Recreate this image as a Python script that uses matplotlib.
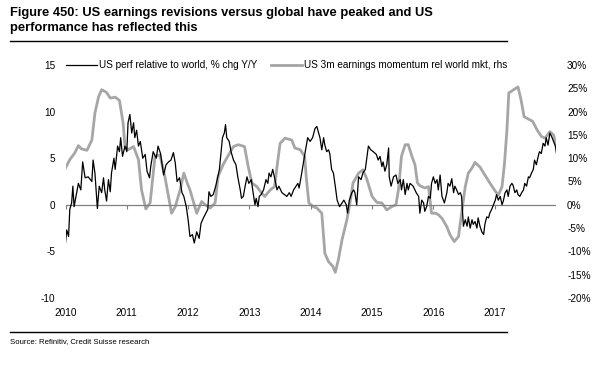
import matplotlib
matplotlib.use("Agg")
import matplotlib.pyplot as plt
from matplotlib.ticker import FuncFormatter

plt.rcParams['font.family'] = ['Liberation Sans', 'DejaVu Sans']
plt.rcParams['axes.unicode_minus'] = False

# US performance relative to world, % chg Y/Y (left axis), decimal years
perf_t = [2010.00, 2010.02, 2010.05, 2010.07, 2010.10, 2010.12, 2010.14, 2010.17, 2010.21, 2010.25,
          2010.28, 2010.32, 2010.37, 2010.43, 2010.45, 2010.48, 2010.52, 2010.55, 2010.59, 2010.62,
          2010.64, 2010.67, 2010.70, 2010.73, 2010.75, 2010.79, 2010.81, 2010.85, 2010.88, 2010.90,
          2010.93, 2010.97, 2011.00, 2011.02, 2011.05, 2011.08, 2011.11, 2011.13, 2011.16, 2011.19,
          2011.22, 2011.26, 2011.30, 2011.33, 2011.37, 2011.39, 2011.43, 2011.48, 2011.51, 2011.55,
          2011.60, 2011.64, 2011.68, 2011.72, 2011.76, 2011.79, 2011.82, 2011.86, 2011.90, 2011.93,
          2011.97, 2012.00, 2012.03, 2012.07, 2012.10, 2012.14, 2012.18, 2012.21, 2012.25, 2012.29,
          2012.32, 2012.34, 2012.37, 2012.41, 2012.45, 2012.48, 2012.51, 2012.54, 2012.56, 2012.59,
          2012.61, 2012.63, 2012.67, 2012.70, 2012.74, 2012.78, 2012.81, 2012.85, 2012.87, 2012.90,
          2012.93, 2012.96, 2012.99, 2013.03, 2013.06, 2013.09, 2013.11, 2013.14, 2013.16, 2013.19,
          2013.23, 2013.27, 2013.30, 2013.32, 2013.35, 2013.38, 2013.41, 2013.45, 2013.48, 2013.53,
          2013.57, 2013.61, 2013.65, 2013.68, 2013.72, 2013.76, 2013.79, 2013.81, 2013.84, 2013.88,
          2013.91, 2013.95, 2013.99, 2014.03, 2014.07, 2014.10, 2014.12, 2014.15, 2014.18, 2014.21,
          2014.23, 2014.26, 2014.29, 2014.31, 2014.34, 2014.37, 2014.40, 2014.43, 2014.47, 2014.51,
          2014.54, 2014.58, 2014.60, 2014.63, 2014.67, 2014.70, 2014.72, 2014.75, 2014.78, 2014.82,
          2014.85, 2014.89, 2014.91, 2014.94, 2014.98, 2015.02, 2015.07, 2015.10, 2015.13, 2015.16,
          2015.18, 2015.21, 2015.24, 2015.27, 2015.28, 2015.31, 2015.35, 2015.39, 2015.42, 2015.46,
          2015.48, 2015.51, 2015.54, 2015.57, 2015.59, 2015.62, 2015.67, 2015.72, 2015.76, 2015.78,
          2015.81, 2015.84, 2015.86, 2015.89, 2015.92, 2015.95, 2015.97, 2016.00, 2016.03, 2016.06,
          2016.08, 2016.11, 2016.14, 2016.18, 2016.22, 2016.24, 2016.27, 2016.30, 2016.33, 2016.35,
          2016.38, 2016.41, 2016.44, 2016.46, 2016.49, 2016.52, 2016.55, 2016.57, 2016.60, 2016.63,
          2016.65, 2016.68, 2016.71, 2016.73, 2016.76, 2016.79, 2016.82, 2016.84, 2016.87, 2016.90,
          2016.92, 2016.95, 2016.98, 2017.01, 2017.03, 2017.06, 2017.09, 2017.12, 2017.14, 2017.17,
          2017.20, 2017.22, 2017.25, 2017.28, 2017.30, 2017.33, 2017.36, 2017.38, 2017.41, 2017.44,
          2017.47, 2017.49, 2017.52, 2017.55, 2017.57, 2017.60, 2017.63, 2017.65, 2017.68, 2017.71,
          2017.73, 2017.76, 2017.79, 2017.82, 2017.84, 2017.87, 2017.90, 2017.93, 2017.96, 2017.99,
          2018.01]
perf_v = [-4.1, -2.7, -3.4, -0.5, 0.2, 2.0, -0.2, 0.9, 2.3, 1.6,
          4.6, 2.9, 3.0, 2.5, 4.8, 3.4, -0.4, 2.0, 1.3, 2.9,
          1.6, 0.4, 2.7, 1.4, 3.4, 5.0, 3.8, 6.3, 5.7, 7.2,
          5.2, 6.3, 5.7, 8.8, 9.7, 7.7, 8.8, 7.2, 8.0, 6.3,
          6.8, 5.0, 5.4, 3.6, 2.9, 4.1, 5.7, 5.0, 6.3, 5.5,
          3.2, 4.3, 4.6, 4.8, 5.6, 4.5, 2.5, 2.9, 1.3, 0.9,
          -0.2, -1.6, -3.4, -3.2, -4.1, -2.9, -3.6, -2.0, -1.4, -0.9,
          -0.5, 1.4, 0.9, 1.1, 2.0, 2.9, 3.8, 5.9, 7.2, 7.7,
          8.6, 7.2, 6.8, 5.7, 4.8, 4.3, 3.0, 1.6, 0.7, 0.9,
          2.0, 3.0, 2.3, 2.7, 1.3, 0.0, 0.7, -0.2, 0.9, 1.1,
          1.6, 2.7, 2.3, 3.4, 3.0, 3.8, 2.9, 1.6, 2.0, 1.3,
          1.1, 0.9, 1.3, 0.9, 1.6, 2.0, 2.3, 1.8, 2.9, 4.5,
          5.7, 7.2, 6.8, 7.2, 8.2, 8.4, 7.9, 7.2, 5.9, 7.2,
          6.4, 5.7, 5.9, 5.5, 3.8, 3.4, 2.0, 0.5, -0.2, 0.2,
          0.5, 0.0, -0.9, 0.5, 1.3, 1.6, 1.3, 0.0, 3.0, 2.7,
          3.4, 3.8, 4.8, 6.3, 5.9, 5.7, 5.4, 4.8, 5.2, 4.1,
          4.6, 3.6, 4.3, 6.1, 3.0, 2.0, 3.0, 3.2, 2.3, 2.7,
          1.6, 2.7, 1.1, 2.3, 1.6, 2.3, 2.0, 1.3, 0.9, -0.9,
          0.5, 0.2, -0.7, -0.2, 0.9, 0.7, 2.3, 3.0, 2.3, 2.7,
          1.6, 3.2, 0.9, 0.2, 1.3, 2.3, 2.0, 2.8, 1.3, 2.0,
          1.6, 1.1, 1.3, 0.9, -2.3, -1.6, -2.3, -1.3, -2.5, -1.6,
          -2.1, -1.8, -2.5, -1.4, -2.3, -2.9, -3.2, -2.1, -1.3, -1.4,
          -0.9, -0.5, 0.0, 0.5, 1.1, 0.5, 0.9, 0.0, 0.4, 1.3,
          1.6, 0.9, 2.0, 2.3, 2.1, 1.3, 1.6, 1.1, 0.9, 1.3,
          1.6, 2.3, 2.0, 3.0, 2.9, 3.4, 3.8, 4.8, 4.3, 5.2,
          5.7, 5.5, 6.6, 6.3, 7.2, 6.4, 7.7, 7.3, 6.8, 6.3,
          5.4]

# US 3m earnings momentum rel world mkt, % (right axis), decimal years
mom_t = [2010.00, 2010.07, 2010.15, 2010.21, 2010.26, 2010.35, 2010.43, 2010.48, 2010.54, 2010.59,
         2010.67, 2010.73, 2010.81, 2010.88, 2010.94, 2010.97, 2011.02, 2011.11, 2011.19, 2011.24,
         2011.31, 2011.38, 2011.46, 2011.54, 2011.62, 2011.73, 2011.79, 2011.87, 2011.93, 2011.99,
         2012.03, 2012.14, 2012.22, 2012.28, 2012.36, 2012.44, 2012.49, 2012.57, 2012.66, 2012.74,
         2012.82, 2012.92, 2012.98, 2013.04, 2013.12, 2013.20, 2013.25, 2013.34, 2013.41, 2013.45,
         2013.50, 2013.58, 2013.69, 2013.74, 2013.83, 2013.90, 2013.93, 2013.97, 2014.04, 2014.10,
         2014.18, 2014.23, 2014.29, 2014.36, 2014.40, 2014.45, 2014.51, 2014.59, 2014.64, 2014.69,
         2014.78, 2014.85, 2014.91, 2015.00, 2015.08, 2015.16, 2015.24, 2015.32, 2015.39, 2015.43,
         2015.48, 2015.54, 2015.59, 2015.65, 2015.70, 2015.74, 2015.78, 2015.86, 2015.92, 2015.97,
         2016.03, 2016.08, 2016.14, 2016.22, 2016.27, 2016.34, 2016.41, 2016.46, 2016.52, 2016.57,
         2016.63, 2016.68, 2016.76, 2016.84, 2016.92, 2017.01, 2017.06, 2017.12, 2017.16, 2017.20,
         2017.23, 2017.31, 2017.38, 2017.43, 2017.48, 2017.55, 2017.62, 2017.69, 2017.76, 2017.82,
         2017.90, 2017.96, 2018.00]
mom_v = [7.9, 9.7, 11.1, 12.7, 12.0, 11.7, 13.9, 19.7, 23.2, 24.7,
         24.1, 22.9, 23.1, 22.4, 17.5, 12.5, 11.8, 12.5, 9.7, 3.2,
         -0.9, 0.4, 10.4, 10.7, 6.1, -1.8, -0.4, 3.2, 6.8, 4.5,
         3.2, -1.8, 0.7, 0.0, -0.7, 0.4, 6.1, 8.6, 10.7, 12.5,
         12.9, 12.5, 8.2, 4.7, 3.9, 2.5, 1.8, 3.2, 3.9, 8.2,
         13.2, 14.3, 13.9, 12.2, 11.8, 10.4, 5.4, 0.4, -0.4, -0.7,
         -1.8, -10.4, -12.2, -13.2, -14.5, -11.8, -7.5, -3.2, 0.4, 4.7,
         6.8, 7.5, 5.7, 1.8, 0.5, 0.4, -1.1, -0.4, 0.0, 3.2,
         10.4, 12.9, 12.9, 10.4, 8.6, 4.7, 4.1, 3.6, 3.9, -1.8,
         -1.8, -2.1, -2.9, -4.7, -6.4, -7.9, -6.8, -1.8, 3.9, 6.8,
         7.9, 9.1, 8.1, 6.4, 4.7, 2.9, 2.1, 3.9, 8.9, 16.1,
         24.0, 24.7, 25.3, 22.5, 18.9, 18.4, 17.9, 16.1, 14.7, 14.3,
         15.7, 15.0, 12.9]

year_ticks = [2010, 2011, 2012, 2013, 2014, 2015, 2016, 2017]
left_ticks = [-10, -5, 0, 5, 10, 15]
right_ticks = [-20, -15, -10, -5, 0, 5, 10, 15, 20, 25, 30]

label_perf = "US perf relative to world, % chg Y/Y"
label_mom = "US 3m earnings momentum rel world mkt, rhs"
title = ("Figure 450: US earnings revisions versus global have peaked and US\n"
         "performance has reflected this")
source = "Source: Refinitiv, Credit Suisse research"

W, H = 612, 372
fig = plt.figure(figsize=(W / 100, H / 100), dpi=100)
ax = fig.add_axes([65.5 / W, 1 - 298 / H, (556 - 65.5) / W, (298 - 65) / H])
ax2 = ax.twinx()

ax.set_xlim(2010, 2018.0)
ax.set_ylim(-10, 15)
ax2.set_ylim(-20, 30)

gray = '#A6A6A6'
l2, = ax2.plot(mom_t, mom_v, color=gray, lw=2.0, solid_joinstyle='round', label=label_mom)
l1, = ax.plot(perf_t, perf_v, color='black', lw=0.9, label=label_perf)
ax.set_zorder(ax2.get_zorder() + 1)
ax.patch.set_visible(False)

# zero line with year tick marks
ax.axhline(0, color='#808080', lw=0.9, zorder=1)
ax.plot(year_ticks, [0] * len(year_ticks), ls='none', marker=3, ms=3,
        mew=0.8, color='#808080', zorder=1)

for a in (ax, ax2):
    for s in a.spines.values():
        s.set_visible(False)

fs = 7.2
ax.set_xticks(year_ticks)
ax.set_xticklabels([str(y) for y in year_ticks])
ax.tick_params(axis='x', length=0, pad=7.5, labelsize=fs)
ax.set_yticks(left_ticks)
ax.tick_params(axis='y', length=0, pad=7.5, labelsize=fs)
ax2.set_yticks(right_ticks)
ax2.yaxis.set_major_formatter(FuncFormatter(lambda v, p: f"{int(v)}%"))
ax2.tick_params(axis='y', length=0, pad=8, labelsize=fs)

leg = fig.legend([l1, l2], [label_perf, label_mom], loc='center left',
                 bbox_to_anchor=(66 / W, 1 - 65 / H), ncol=2, frameon=False,
                 fontsize=fs, handlelength=3.1, handletextpad=0.2,
                 columnspacing=1.4, borderpad=0, borderaxespad=0)

fig.text(10 / W, 1 - 7 / H, title, ha='left', va='top', fontsize=9.3,
         fontweight='bold', linespacing=1.28)
fig.add_artist(plt.Line2D([10 / W, 507 / W], [1 - 41 / H, 1 - 41 / H],
                          color='black', lw=1.0))
fig.add_artist(plt.Line2D([10 / W, 507 / W], [1 - 331.5 / H, 1 - 331.5 / H],
                          color='black', lw=1.0))
fig.text(10 / W, 1 - 342 / H, source, ha='left', va='center', fontsize=5.6)

fig.savefig("out.png", dpi=100)
